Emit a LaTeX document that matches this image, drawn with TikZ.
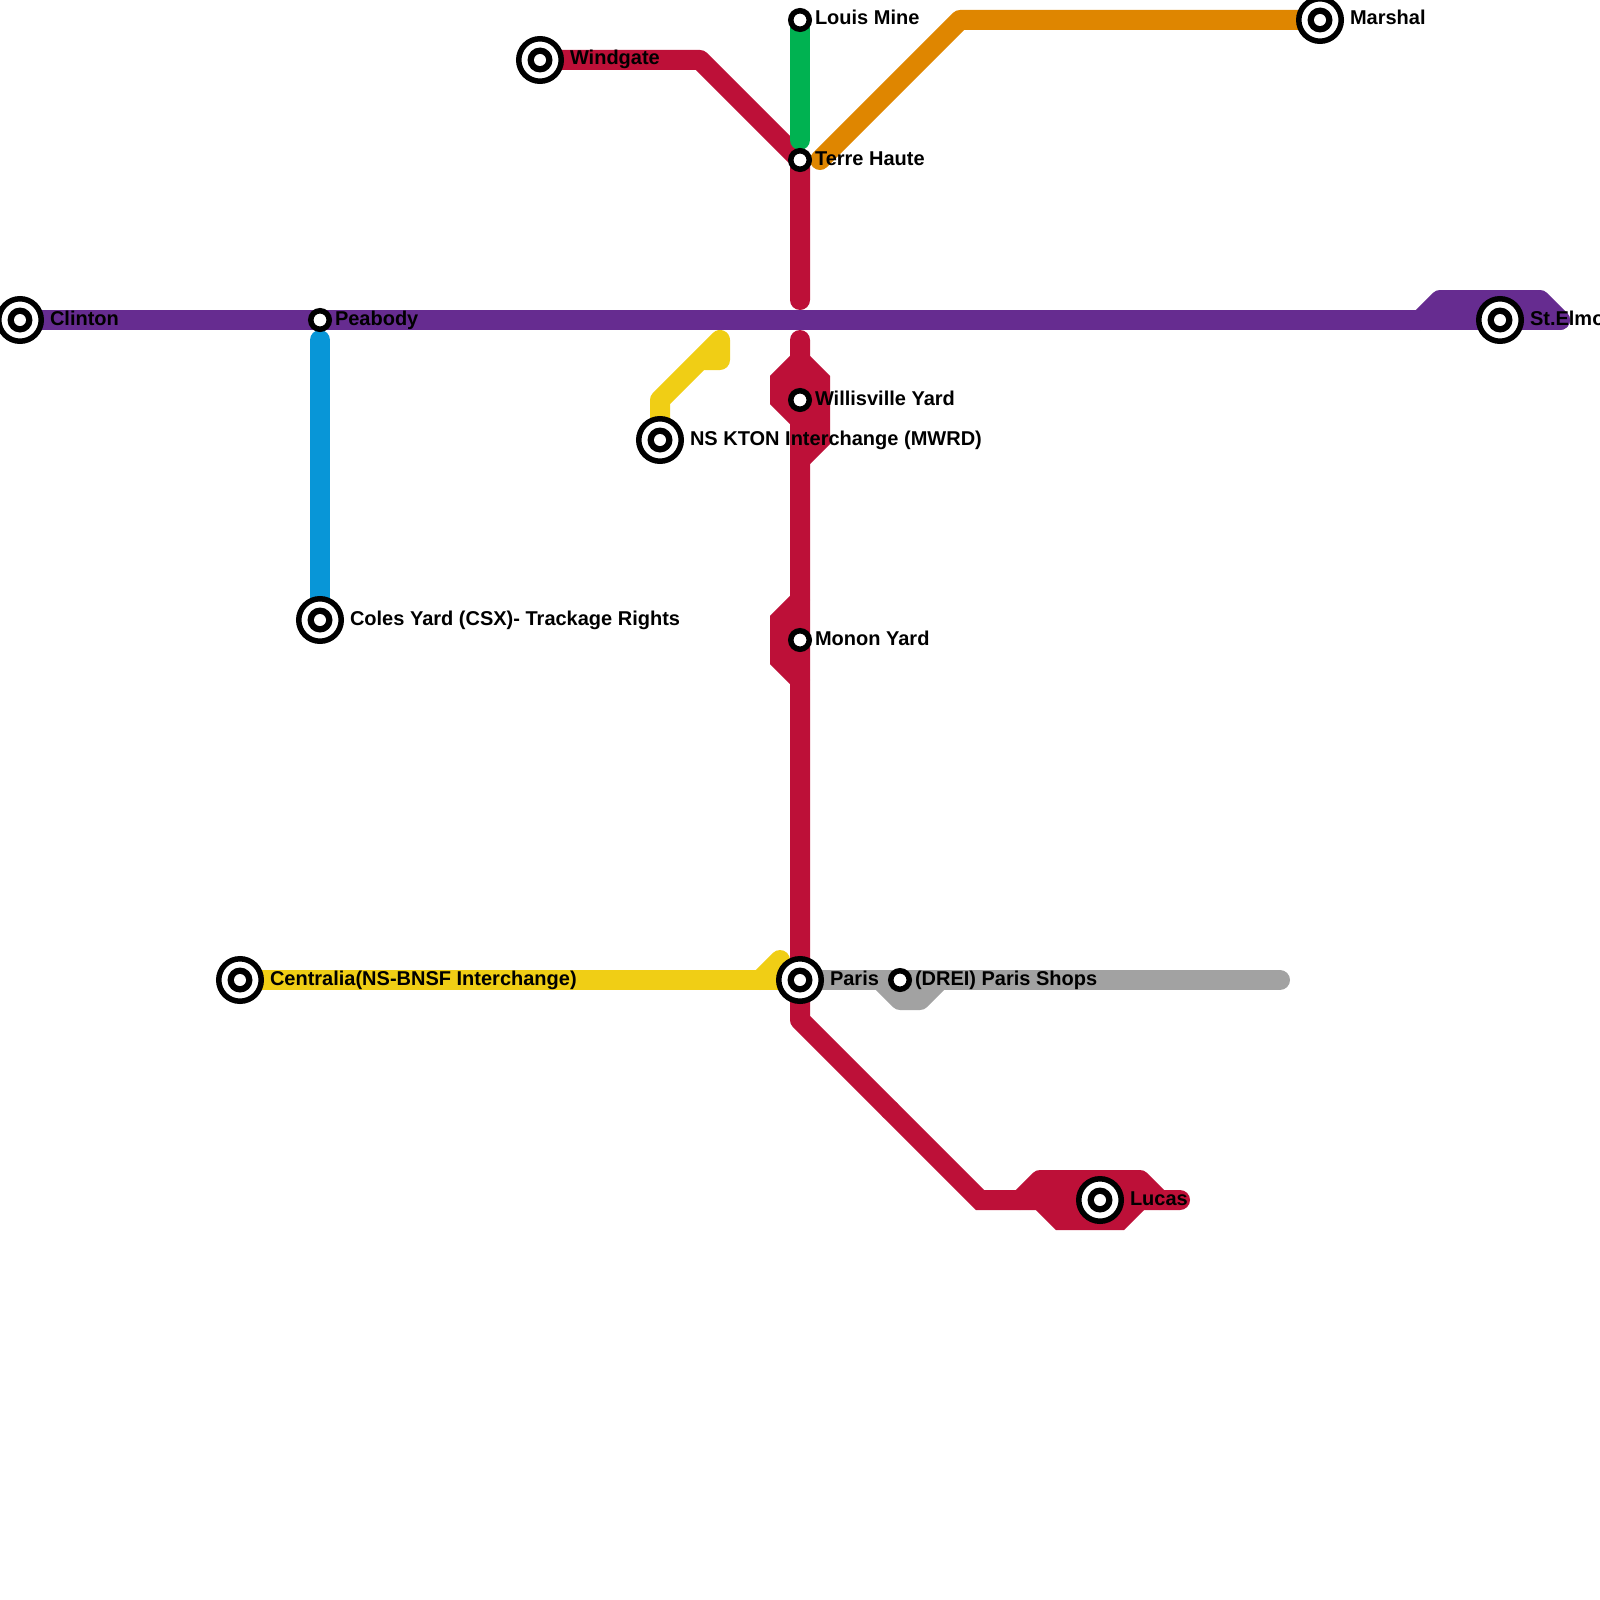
\documentclass[tikz,border=0pt]{standalone}
\usepackage{fontspec}
\setmainfont{Liberation Sans}
\definecolor{cred}{HTML}{BD1038}
\definecolor{cpurple}{HTML}{662C90}
\definecolor{corange}{HTML}{DF8600}
\definecolor{cgreen}{HTML}{00B251}
\definecolor{cblue}{HTML}{0896D7}
\definecolor{cyellow}{HTML}{F0CE15}
\definecolor{cgrey}{HTML}{A2A2A2}
\tikzset{
  route/.style={line width=20pt,line cap=round,line join=round},
  sharp/.style={line join=miter},
  bigring/.style={circle,draw=black,line width=5.5pt,fill=white,minimum size=42.5pt,inner sep=0pt,outer sep=0pt,
    path picture={\fill[black] (path picture bounding box.center) circle (12.5pt);
                  \fill[white] (path picture bounding box.center) circle (6pt);}},
  smallring/.style={circle,draw=black,line width=5.5pt,fill=white,minimum size=18.5pt,inner sep=0pt,outer sep=0pt},
  lab/.style={anchor=base west,inner sep=0pt,outer sep=0pt,font=\fontsize{20}{24}\selectfont\bfseries},
}
\begin{document}
\begin{tikzpicture}[x=1pt,y=-1pt]
\useasboundingbox (0,0) rectangle (1600,1600);
% route points
\coordinate (wg1) at (700,60);
\coordinate (rA) at (800,300);
\coordinate (rB) at (800,340);
\coordinate (wt) at (800,360);
\coordinate (wl1) at (780,380);
\coordinate (wl2) at (780,400);
\coordinate (wl3) at (800,420);
\coordinate (wr1) at (820,380);
\coordinate (wr2) at (820,440);
\coordinate (wr3) at (800,460);
\coordinate (m0) at (800,600);
\coordinate (m1) at (780,620);
\coordinate (m2) at (780,660);
\coordinate (m3) at (800,680);
\coordinate (pb) at (800,1020);
\coordinate (dm) at (890,1110);
\coordinate (lb) at (980,1200);
\coordinate (lend) at (1180,1200);
\coordinate (lu0) at (1020,1200);
\coordinate (lu1) at (1040,1180);
\coordinate (lu2) at (1140,1180);
\coordinate (lu3) at (1160,1200);
\coordinate (ld0) at (1040,1200);
\coordinate (ld1) at (1060,1220);
\coordinate (ld2) at (1120,1220);
\coordinate (ld3) at (1140,1200);
\coordinate (gt0) at (820,160);
\coordinate (gt1) at (960,20);
\coordinate (ge) at (800,140);
\coordinate (pe) at (1560,320);
\coordinate (e0) at (1420,320);
\coordinate (e1) at (1440,300);
\coordinate (e2) at (1540,300);
\coordinate (bs) at (320,340);
\coordinate (ye) at (760,980);
\coordinate (yt) at (780,960);
\coordinate (n1) at (660,400);
\coordinate (n2) at (720,340);
\coordinate (n3) at (720,360);
\coordinate (n4) at (700,360);
\coordinate (gr) at (1280,980);
\coordinate (g0) at (880,980);
\coordinate (g1) at (900,1000);
\coordinate (g2) at (920,1000);
\coordinate (g3) at (940,980);
% stations
\path
  (20,320) coordinate (sClinton)
  (320,320) coordinate (sPeabody)
  (320,620) coordinate (sColes)
  (540,60) coordinate (sWindgate)
  (800,20) coordinate (sLouis)
  (800,160) coordinate (sTerre)
  (1320,20) coordinate (sMarshal)
  (1500,320) coordinate (sElmo)
  (800,400) coordinate (sWillis)
  (660,440) coordinate (sNS)
  (800,640) coordinate (sMonon)
  (240,980) coordinate (sCentralia)
  (800,980) coordinate (sParis)
  (900,980) coordinate (sShops)
  (1100,1200) coordinate (sLucas);
% routes
\draw[route,cgrey] (sParis) -- (gr);
\draw[route,cgrey] (g0) -- (g1) -- (g2) -- (g3);
\draw[route,cyellow] (sCentralia) -- (ye) -- (sParis);
\draw[route,cyellow] (ye) -- (yt);
\draw[route,cyellow] (sNS) -- (n1) -- (n2) -- (n3) -- (n4);
\draw[route,cred] (sWindgate) -- (wg1) -- (sTerre) -- (rA);
\draw[route,cred] (rB) -- (pb) -- (dm);
\draw[route,cred,sharp] (dm) -- (lb) -- (lend);
\draw[route,cred,sharp] (wt) -- (wl1) -- (wl2) -- (wl3);
\draw[route,cred,sharp] (wt) -- (wr1) -- (wr2) -- (wr3);
\draw[route,cred,sharp] (m0) -- (m1) -- (m2) -- (m3);
\draw[route,cred] (lu0) -- (lu1) -- (lu2) -- (lu3);
\draw[route,cred,sharp] (ld0) -- (ld1) -- (ld2) -- (ld3);
\draw[route,cgreen] (sLouis) -- (ge);
\draw[route,corange] (gt0) -- (gt1) -- (sMarshal);
\draw[route,cpurple] (sClinton) -- (pe);
\draw[route,cpurple] (e0) -- (e1) -- (e2) -- (pe);
\draw[route,cblue] (bs) -- (sColes);
% station markers
\node[bigring] (Clinton) at (sClinton) {};
\node[smallring] (Peabody) at (sPeabody) {};
\node[bigring] (Coles) at (sColes) {};
\node[bigring] (Windgate) at (sWindgate) {};
\node[smallring] (Louis) at (sLouis) {};
\node[smallring] (Terre) at (sTerre) {};
\node[bigring] (Marshal) at (sMarshal) {};
\node[bigring] (Elmo) at (sElmo) {};
\node[smallring] (Willis) at (sWillis) {};
\node[bigring] (NS) at (sNS) {};
\node[smallring] (Monon) at (sMonon) {};
\node[bigring] (Centralia) at (sCentralia) {};
\node[bigring] (Paris) at (sParis) {};
\node[smallring] (Shops) at (sShops) {};
\node[bigring] (Lucas) at (sLucas) {};
% labels
\node[lab] (tClinton) at (50,325) {Clinton};
\node[lab] (tPeabody) at (335,325) {Peabody};
\node[lab] (tColes) at (350,625) {Coles Yard (CSX)- Trackage Rights};
\node[lab] (tWindgate) at (570,65) {Windgate};
\node[lab] (tLouis) at (815,25) {Louis Mine};
\node[lab] (tTerre) at (815,165) {Terre Haute};
\node[lab] (tMarshal) at (1350,25) {Marshal};
\node[lab] (tElmo) at (1530,325) {St.Elmo};
\node[lab] (tWillis) at (815,405) {Willisville Yard};
\node[lab] (tNS) at (690,445) {NS KTON Interchange (MWRD)};
\node[lab] (tMonon) at (815,645) {Monon Yard};
\node[lab] (tCentralia) at (270,985) {Centralia(NS-BNSF Interchange)};
\node[lab] (tParis) at (830,985) {Paris};
\node[lab] (tShops) at (915,985) {(DREI) Paris Shops};
\node[lab] (tLucas) at (1130,1205) {Lucas};
\end{tikzpicture}
\end{document}
